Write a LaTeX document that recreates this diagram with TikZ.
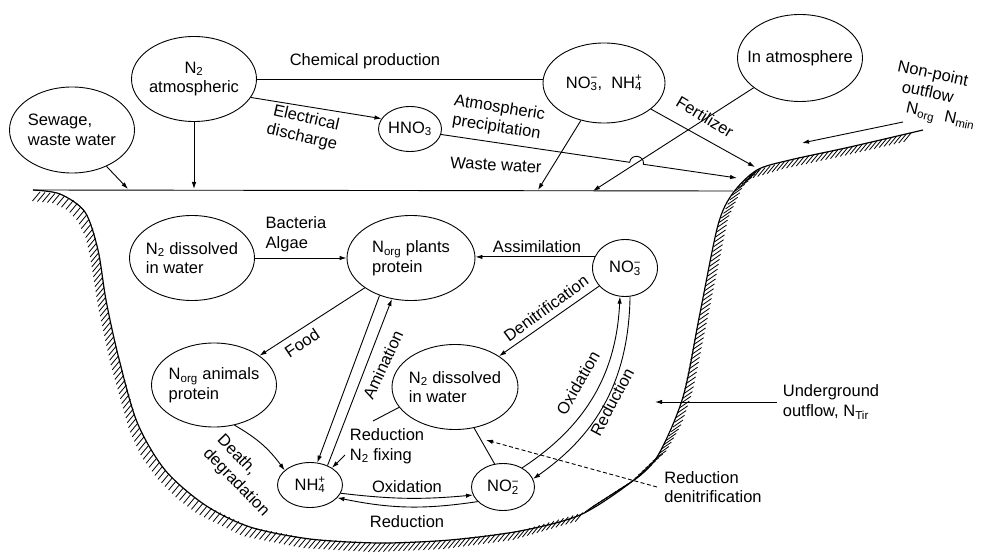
\documentclass[tikz,border=0pt]{standalone}
\usepackage{fontspec}
\setmainfont{Liberation Sans}
\usetikzlibrary{shapes.geometric,arrows.meta,decorations.markings}
\newcommand\ionsub[2]{\rlap{\textsuperscript{#2}}\textsubscript{#1}}
\tikzset{
  hatchdl/.style={postaction={decorate},decoration={markings,
     mark=between positions 0 and 1 step 5pt with {\pgftransformresetnontranslations
       \draw[line width=0.8pt] (0pt,0pt) -- (-7.5pt,-9pt);}}},
  hatchur/.style={postaction={decorate},decoration={markings,
     mark=between positions 0 and 1 step 5pt with {\pgftransformresetnontranslations
       \draw[line width=0.8pt] (0pt,0pt) -- (10pt,7pt);}}},
}
\begin{document}
\begin{tikzpicture}[x=1pt,y=-1pt, line width=0.9pt,
  font=\fontsize{16.5}{19.5}\selectfont,
  el/.style={draw, ellipse, align=center, inner xsep=-12pt, inner ysep=0pt},
  arr/.style={-{Latex[length=7pt,width=4.5pt]}},
  lbl/.style={inner sep=0pt},
  bank/.style={line width=1.2pt},
  dsh/.style={dash pattern=on 4pt off 2.5pt}]
\useasboundingbox (0,0) rectangle (984,553);

% ground / banks
\draw[bank] plot[smooth, tension=0.5] coordinates {(33,190) (60,194) (85,212) (98,250) (106,300) (118,355) (137,422) (165,470) (205,505) (250,527) (310,539) (380,543) (450,540) (520,531) (580,515) (630,483) (657,457) (683,397) (700,313) (718,225) (733,193) (757,170) (790,160) (850,147) (923,130)};
\path[hatchdl] (40,192) -- (60,194) -- (75,201) -- (85,212) -- (93,228) -- (98,250) -- (106,300) -- (118,355) -- (137,422) -- (149,448) -- (165,470) -- (184,489) -- (205,505) -- (250,527) -- (310,539) -- (380,543) -- (450,540) -- (520,531) -- (585,512);
\path[hatchur] (585,512) -- (630,483) -- (657,457) -- (672,430) -- (683,397) -- (700,313) -- (718,225) -- (733,193) -- (750,176);
\path[hatchdl] (752,174) -- (757,170) -- (790,160) -- (850,147) -- (915,132);
\coordinate (sl) at (33,190);
\coordinate (sr) at (733,191);
\draw (sl) -- (sr);

% nodes
\node[el, minimum width=125pt, minimum height=85pt] (n2atm) at (194,79) {N\textsubscript{2}\\atmospheric};
\node[el, align=left, minimum width=125pt, minimum height=86pt] (sewage) at (72,130) {Sewage,\\waste water};
\node[el, minimum width=63pt, minimum height=45pt] (hno3) at (410,129) {HNO\textsubscript{3}};
\node[el, minimum width=122pt, minimum height=80pt] (no3nh4) at (604,83) {NO\ionsub{3}{−},\ \ NH\ionsub{4}{+}};
\node[el, minimum width=125pt, minimum height=87pt] (inatm) at (800,58) {In atmosphere};
\node[el, align=left, minimum width=125pt, minimum height=85pt] (n2dl) at (192,258) {N\textsubscript{2} dissolved\\in water};
\node[el, align=left, minimum width=128pt, minimum height=85pt] (plants) at (411,258) {N\textsubscript{org} plants\\protein};
\node[el, minimum width=65pt, minimum height=57pt] (no3) at (625,268) {NO\ionsub{3}{−}};
\node[el, align=left, minimum width=125pt, minimum height=84pt] (animals) at (214,385) {N\textsubscript{org} animals\\protein};
\node[el, align=left, minimum width=126pt, minimum height=85pt] (n2dm) at (455,387) {N\textsubscript{2} dissolved\\in water};
\node[el, minimum width=65pt, minimum height=45pt] (nh4) at (310,485) {NH\ionsub{4}{+}};
\node[el, minimum width=63pt, minimum height=47pt] (no2) at (503,487) {NO\ionsub{2}{−}};

% labels
\node[lbl] (tchem) at (365,61) {Chemical production};
\node[lbl, align=center, rotate=-13] (telec) at (304,128) {Electrical\\discharge};
\node[lbl, align=center, rotate=-9] (tprec) at (498,118) {Atmospheric\\precipitation};
\node[lbl, rotate=-3] (tww) at (496,165) {Waste water};
\node[lbl, rotate=-31] (tfert) at (705,117) {Fertilizer};
\node[lbl, align=left, rotate=-12, anchor=north west] (tnp) at (899,59) {Non-point\\\hspace{8.5pt}outflow\\\hspace{17pt}N\textsubscript{org}\hspace{10pt}N\textsubscript{min}};
\node[lbl, align=left] (tbact) at (296,234) {Bacteria\\Algae};
\node[lbl] (tassim) at (537,247) {Assimilation};
\node[lbl, rotate=34] (tfood) at (302,343) {Food};
\node[lbl, rotate=65] (tamin) at (383,365) {Amination};
\node[lbl, rotate=36] (tdenit) at (546,308) {Denitrification};
\node[lbl, rotate=60] (toxi1) at (578,383) {Oxidation};
\node[lbl, rotate=62] (tred1) at (612,402) {Reduction};
\node[lbl, align=left, rotate=-46] (tdeath) at (243,476) {Death,\\degradation};
\node[lbl, align=left] (tfix) at (387,446) {Reduction\\N\textsubscript{2} fixing};
\node[lbl] (toxi2) at (407,487) {Oxidation};
\node[lbl] (tred2) at (407,522) {Reduction};
\node[lbl, align=left] (trd) at (713,487) {Reduction\\denitrification};
\node[lbl, align=left] (tug) at (831,402) {Underground\\outflow, N\textsubscript{Tir}};

% connectors above water
\draw (n2atm.east) -- (n2atm.east -| no3nh4.west);
\draw[arr] (n2atm.-18) -- (hno3.160);
\coordinate (hA) at (629.6,162.3);
\coordinate (hB) at (643.4,164.3);
\coordinate (pr) at (737,178);
\draw[arr] (hno3.-10) -- (hA) .. controls (630.95,153.1) and (644.75,155.1) .. (hB) -- (pr);
\coordinate (ww) at (538,190);
\draw[arr] (no3nh4) -- (ww);
\coordinate (fe) at (755,167);
\draw[arr] (no3nh4) -- (fe);
\coordinate (ia) at (593,191);
\draw[arr] (inatm) -- (ia);
\coordinate (np1) at (903,122);
\coordinate (np2) at (802,143);
\draw[arr] (np1) -- (np2);
\coordinate (sw) at (128,189);
\draw[arr] (sewage) -- (sw);
\coordinate (n2s) at (194,189);
\draw[arr] (n2atm) -- (n2s);

% connectors in water
\draw[arr] (n2dl) -- (plants);
\draw[arr] (no3.160) -- (no3.160 -| plants.east);
\draw[arr] (plants) -- (animals);
\draw[arr] (plants.-130) -- (nh4.72);
\draw[arr] (nh4.48) -- (plants.-115);
\draw[arr] (no3) -- (n2dm);
\draw[arr] (no2.45) to[bend right=27] (no3.-100);
\draw[arr] (no3.-80) to[bend left=27] (no2.15);
\draw[arr] (nh4.-15) to[bend right=6] (no2.-165);
\draw[arr] (no2.-150) to[bend left=10] (nh4.-25);
\draw[arr] (animals.-63) to[bend left=12] (nh4.150);
\coordinate (fxa) at (373,421);
\coordinate (fxb) at (345,455);
\draw (n2dm.-160) -- (fxa);
\draw[arr] (fxb) -- (nh4.38);
\draw (n2dm.-65) -- (no2.110);
\coordinate (rda) at (657,487);
\coordinate (rdb) at (486,440);
\draw[arr, dsh] (rda) -- (rdb);
\coordinate (uga) at (777,402);
\coordinate (ugb) at (655,402);
\draw[arr] (uga) -- (ugb);
\end{tikzpicture}
\end{document}
